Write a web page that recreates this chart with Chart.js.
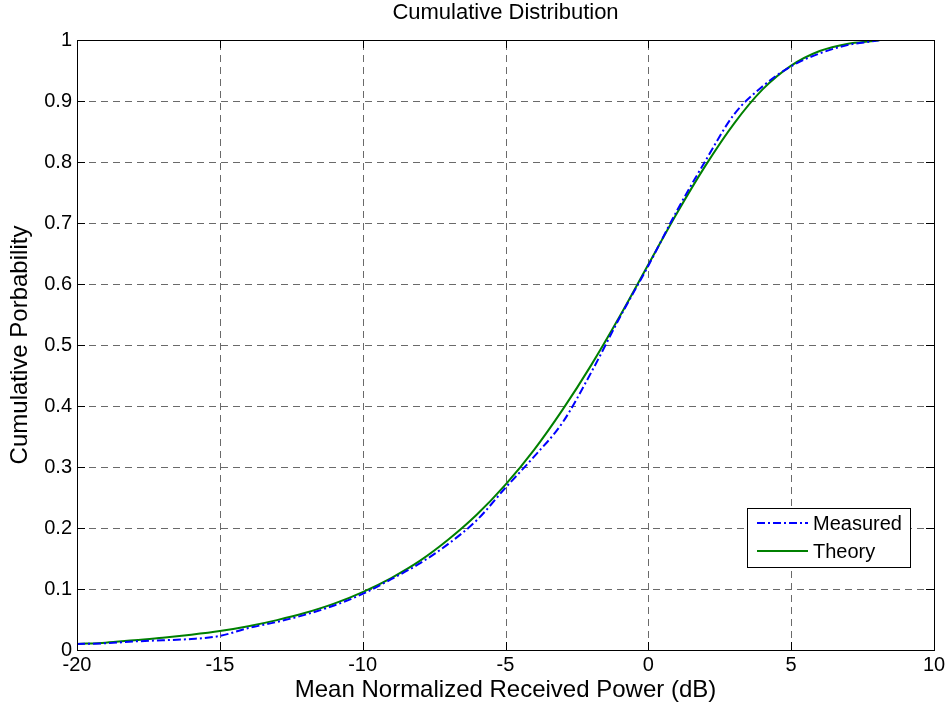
<!DOCTYPE html>
<html>
<head>
<meta charset="utf-8">
<script src="https://cdn.jsdelivr.net/npm/chart.js@4"></script>
<style>
    html, body { margin: 0; padding: 0; background: #fff; }
    #wrap { width: 948px; height: 708px; }
</style>
</head>
<body>
<div id="wrap"><canvas id="CdfChart" width="948" height="708"></canvas></div>
<script>
// power in dB
const powerDb = [-20, -19, -18, -17, -16, -15, -14, -13, -12, -11, -10, -9, -8, -7, -6, -5, -4, -3, -2, -1, 0, 1, 2, 3, 4, 5, 6, 7, 8, 8.1];
const measured = [0.010, 0.011, 0.014, 0.016, 0.018, 0.023, 0.036, 0.046, 0.058, 0.073, 0.092, 0.116, 0.142, 0.174, 0.213, 0.266, 0.317, 0.373, 0.455, 0.545, 0.630, 0.720, 0.802, 0.878, 0.924, 0.957, 0.978, 0.992, 0.999, 1.000];
const theory = [0.010, 0.012, 0.016, 0.020, 0.025, 0.031, 0.039, 0.049, 0.061, 0.076, 0.095, 0.118, 0.146, 0.181, 0.222, 0.271, 0.328, 0.394, 0.467, 0.547, 0.632, 0.716, 0.794, 0.863, 0.919, 0.958, 0.982, 0.994, 0.999, 1.000];
const xTicks = [-20, -15, -10, -5, 0, 5, 10];
const yTicks = [0, 0.1, 0.2, 0.3, 0.4, 0.5, 0.6, 0.7, 0.8, 0.9, 1];
const xTickLabels = ['-20', '-15', '-10', '-5', '0', '5', '10'];
const yTickLabels = ['0', '0.1', '0.2', '0.3', '0.4', '0.5', '0.6', '0.7', '0.8', '0.9', '1'];

const font = "'Liberation Sans', Arial, sans-serif";

const toPoints = (ys) => powerDb.map((x, i) => ({ x: x, y: ys[i] }));

// grid, box, inward ticks, labels and legend in matlab style
const matlabFrame = {
    id: 'matlabFrame',
    beforeDatasetsDraw(chart) {
        const ctx = chart.ctx;
        const a = chart.chartArea;
        const xs = chart.scales.x, ys = chart.scales.y;
        ctx.save();
        ctx.strokeStyle = '#6a6a6a';
        ctx.lineWidth = 1;
        ctx.setLineDash([7, 5]);
        xTicks.slice(1, -1).forEach(v => {
            const px = Math.round(xs.getPixelForValue(v)) + 0.5;
            ctx.beginPath(); ctx.moveTo(px, a.bottom); ctx.lineTo(px, a.top); ctx.stroke();
        });
        yTicks.slice(1, -1).forEach(v => {
            const py = Math.round(ys.getPixelForValue(v)) + 0.5;
            ctx.beginPath(); ctx.moveTo(a.left, py); ctx.lineTo(a.right, py); ctx.stroke();
        });
        ctx.restore();
    },
    afterDatasetsDraw(chart) {
        const ctx = chart.ctx;
        const a = chart.chartArea;
        const xs = chart.scales.x, ys = chart.scales.y;
        ctx.save();
        ctx.strokeStyle = '#000';
        ctx.lineWidth = 1;
        ctx.setLineDash([]);
        ctx.strokeRect(Math.round(a.left) + 0.5, Math.round(a.top) + 0.5, Math.round(a.right - a.left), Math.round(a.bottom - a.top));
        const tl = 8;
        ctx.beginPath();
        xTicks.forEach(v => {
            const px = Math.round(xs.getPixelForValue(v)) + 0.5;
            ctx.moveTo(px, a.bottom); ctx.lineTo(px, a.bottom - tl);
            ctx.moveTo(px, a.top); ctx.lineTo(px, a.top + tl);
        });
        yTicks.forEach(v => {
            const py = Math.round(ys.getPixelForValue(v)) + 0.5;
            ctx.moveTo(a.left, py); ctx.lineTo(a.left + tl, py);
            ctx.moveTo(a.right, py); ctx.lineTo(a.right - tl, py);
        });
        ctx.stroke();

        // tick labels
        ctx.fillStyle = '#000';
        ctx.font = '20px ' + font;
        ctx.textBaseline = 'middle';
        ctx.textAlign = 'center';
        xTicks.forEach((v, i) => {
            ctx.fillText(xTickLabels[i], xs.getPixelForValue(v), a.bottom + 15);
        });
        ctx.textAlign = 'right';
        yTicks.forEach((v, i) => {
            ctx.fillText(yTickLabels[i], a.left - 5, ys.getPixelForValue(v));
        });

        // titles
        ctx.textAlign = 'center';
        ctx.font = '22px ' + font;
        ctx.fillText('Cumulative Distribution', (a.left + a.right) / 2, 13);
        ctx.font = '24px ' + font;
        ctx.fillText('Mean Normalized Received Power (dB)', (a.left + a.right) / 2, 690);
        ctx.save();
        ctx.translate(20, (a.top + a.bottom) / 2);
        ctx.rotate(-Math.PI / 2);
        ctx.fillText('Cumulative Porbability', 0, 0);
        ctx.restore();

        // legend
        const lx = 747, ly = 508, lw = 163, lh = 59;
        ctx.fillStyle = '#fff';
        ctx.fillRect(lx, ly, lw, lh);
        ctx.strokeStyle = '#000';
        ctx.strokeRect(lx + 0.5, ly + 0.5, lw, lh);
        ctx.font = '20px ' + font;
        ctx.textAlign = 'left';
        chart.data.datasets.forEach((ds, i) => {
            const ry = ly + 15 + i * 28;
            ctx.strokeStyle = ds.borderColor;
            ctx.lineWidth = 2;
            ctx.setLineDash(ds.borderDash || []);
            ctx.beginPath(); ctx.moveTo(lx + 10, ry); ctx.lineTo(lx + 61, ry); ctx.stroke();
            ctx.setLineDash([]);
            ctx.fillStyle = '#000';
            ctx.fillText(ds.label, lx + 66, ry + 1);
        });
        ctx.restore();
    }
};

new Chart(document.getElementById('CdfChart'), {
    type: 'line',
    data: {
        datasets: [{
            label: 'Measured',
            data: toPoints(measured),
            borderColor: '#0000ff',
            borderWidth: 2,
            borderDash: [8, 3, 2, 3],
            pointRadius: 0,
            cubicInterpolationMode: 'monotone',
            fill: false
        }, {
            label: 'Theory',
            data: toPoints(theory),
            borderColor: '#008000',
            borderWidth: 2,
            pointRadius: 0,
            cubicInterpolationMode: 'monotone',
            fill: false
        }]
    },
    options: {
        responsive: false,
        animation: false,
        events: [],
        layout: { padding: { top: 40, right: 14, left: 0, bottom: 0 } },
        plugins: { legend: { display: false }, title: { display: false }, tooltip: { enabled: false } },
        scales: {
            x: {
                type: 'linear',
                min: -20,
                max: 10,
                afterFit: (s) => { s.height = 58; },
                grid: { display: false, drawTicks: false },
                border: { display: false },
                ticks: { display: false }
            },
            y: {
                type: 'linear',
                min: 0,
                max: 1,
                afterFit: (s) => { s.width = 77; },
                grid: { display: false, drawTicks: false },
                border: { display: false },
                ticks: { display: false }
            }
        }
    },
    plugins: [matlabFrame]
});
</script>
</body>
</html>
